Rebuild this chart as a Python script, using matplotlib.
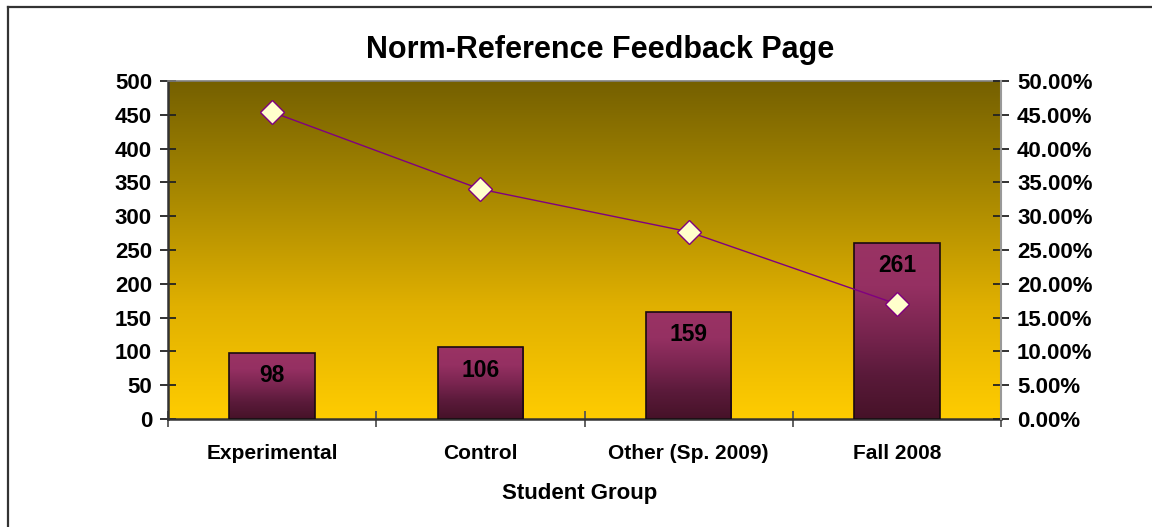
import matplotlib
matplotlib.use("Agg")
import matplotlib.pyplot as plt
import numpy as np
from matplotlib.colors import LinearSegmentedColormap
from matplotlib.ticker import FuncFormatter, FixedLocator
from matplotlib.lines import Line2D

# ---- data ----
categories = ["Experimental", "Control", "Other (Sp. 2009)", "Fall 2008"]
counts = [98, 106, 159, 261]
percent = [45.4, 34.0, 27.7, 17.0]
title = "Norm-Reference Feedback Page"
xlabel = "Student Group"

plt.rcParams['font.family'] = ['Liberation Sans', 'DejaVu Sans']
plt.rcParams['font.weight'] = 'bold'

W, H = 1152, 527
fig = plt.figure(figsize=(W / 100, H / 100), dpi=100)
fig.patch.set_facecolor('white')

L, R, T, B = 168, 1001, 81, 419
ax = fig.add_axes([L / W, 1 - B / H, (R - L) / W, (B - T) / H])

x = np.arange(len(categories))
ax.set_xlim(-0.5, len(categories) - 0.5)
ax.set_ylim(0, 500)

# background gradient
bg_cmap = LinearSegmentedColormap.from_list('bg', ['#FFCC00', '#E0B000', '#A88800', '#756000'])
grad = np.linspace(0, 1, 256).reshape(-1, 1)
ax.imshow(grad, extent=[0, 1, 0, 1], transform=ax.transAxes, origin='lower',
          aspect='auto', cmap=bg_cmap, zorder=0)
ax.set_facecolor('#C8A000')

# bars with gradient fill
bar_cmap = LinearSegmentedColormap.from_list('bar', ['#461228', '#5A1A3A', '#7A2550', '#953062', '#9A3364'])
bars = ax.bar(x, counts, width=0.41, color='none', edgecolor='#1A0A10', linewidth=1.2, zorder=3)
for b in bars:
    x0, y0 = b.get_x(), b.get_y()
    w, h = b.get_width(), b.get_height()
    im = ax.imshow(grad, extent=[x0, x0 + w, y0, y0 + h], origin='lower',
                   aspect='auto', cmap=bar_cmap, zorder=2)
    im.set_clip_path(b)
ax.set_xlim(-0.5, len(categories) - 0.5)
ax.set_ylim(0, 500)

# data labels
for xi, v in zip(x, counts):
    ax.annotate(str(v), (xi, v), xytext=(0, -23), textcoords='offset pixels',
                ha='center', va='center', fontsize=16.5, fontweight='bold', color='black', zorder=5)

# left axis
ax.set_yticks(np.arange(0, 501, 50))
ax.tick_params(axis='y', direction='inout', length=11, width=1.3, color='#222222',
               labelsize=16, pad=6)
ax.xaxis.set_major_locator(FixedLocator(x))
ax.set_xticklabels(categories, fontsize=15, fontweight='bold')
ax.xaxis.set_minor_locator(FixedLocator(np.arange(-0.5, len(categories), 1.0)))
ax.tick_params(axis='x', which='major', length=0, pad=18)
ax.tick_params(axis='x', which='minor', direction='inout', length=11, width=1.3, color='#555555')
for s in ['left', 'bottom']:
    ax.spines[s].set_color('#333333')
    ax.spines[s].set_linewidth(1.8)
for s in ['top', 'right']:
    ax.spines[s].set_color('#808080')
    ax.spines[s].set_linewidth(1.2)

# right axis
ax2 = ax.twinx()
ax2.set_ylim(0, 50)
ax2.set_yticks(np.arange(0, 51, 5))
ax2.yaxis.set_major_formatter(FuncFormatter(lambda v, p: f"{v:.2f}%"))
ax2.tick_params(axis='y', direction='inout', length=11, width=1.3, color='#222222',
                labelsize=16, pad=6)
for lab in ax2.get_yticklabels() + ax.get_yticklabels():
    lab.set_fontweight('bold')
for s in ax2.spines.values():
    s.set_visible(False)
ax2.spines['right'].set_visible(True)
ax2.spines['right'].set_color('#999999')
ax2.spines['right'].set_linewidth(1.5)

ax2.plot(x, percent, color='#800080', linewidth=1.0, marker='D', markersize=12,
         markerfacecolor='#FFFFCC', markeredgecolor='#800080', markeredgewidth=1.0, zorder=6)
ax2.set_xlim(-0.5, len(categories) - 0.5)

# titles
fig.text(600 / W, 1 - 50 / H, title, ha='center', va='center', fontsize=22, fontweight='bold')
fig.text(580 / W, 1 - 493 / H, xlabel, ha='center', va='center', fontsize=16, fontweight='bold')

# figure border (left and top edges)
fig.add_artist(Line2D([8 / W, 8 / W], [0, 1 - 7 / H], transform=fig.transFigure,
                      color='#333333', linewidth=1.6))
fig.add_artist(Line2D([8 / W, 1], [1 - 7 / H, 1 - 7 / H], transform=fig.transFigure,
                      color='#333333', linewidth=1.6))

fig.savefig('out.png', dpi=100)
